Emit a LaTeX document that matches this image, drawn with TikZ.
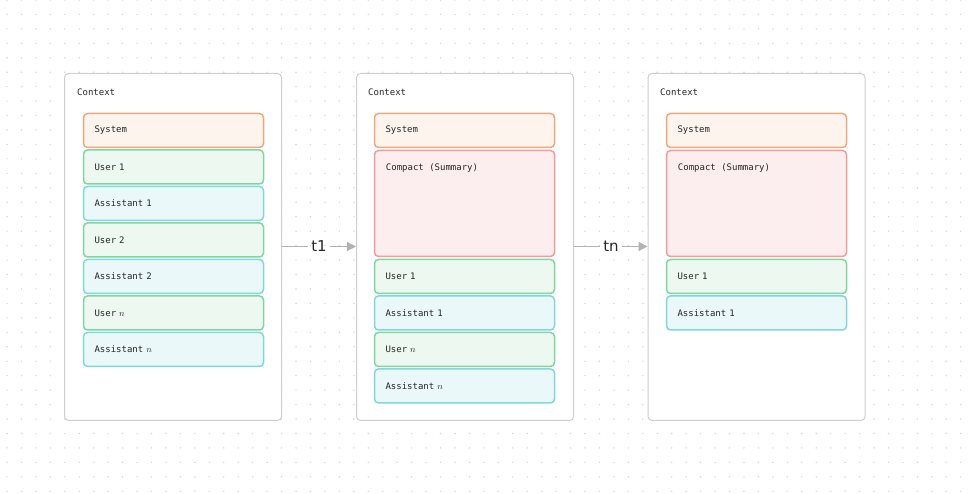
\documentclass[tikz,border=0pt]{standalone}
\usepackage{fontspec}
\setmainfont{DejaVu Sans}
\setmonofont{DejaVu Sans Mono}
\usetikzlibrary{arrows.meta}

\definecolor{dotGray}{HTML}{D6D6D6}
\definecolor{panelGray}{HTML}{CFCFCF}
\definecolor{arrowGray}{HTML}{B2B2B2}
\definecolor{sysDraw}{HTML}{EFA87C}
\definecolor{sysFill}{HTML}{FDF4EE}
\definecolor{userDraw}{HTML}{80D6A2}
\definecolor{userFill}{HTML}{EDF9F0}
\definecolor{asstDraw}{HTML}{7FD9D6}
\definecolor{asstFill}{HTML}{EBF8F9}
\definecolor{compDraw}{HTML}{F29A9C}
\definecolor{compFill}{HTML}{FCEEEF}

\begin{document}
\begin{tikzpicture}[x=1pt, y=-1pt,
rectPanel/.style={rectangle, draw=panelGray, line width=1pt, fill=white, minimum width=217pt, minimum height=347pt, rounded corners=4pt},
textContext/.style={font=\ttfamily\fontsize{9}{10}\selectfont, anchor=west, inner sep=0pt, text=black!85},
rectMsg/.style={rectangle, line width=1.5pt, minimum width=180pt, minimum height=34pt, text width=158pt, inner xsep=11pt, align=left, rounded corners=4pt, text=black!85, font=\ttfamily\fontsize{9}{10}\selectfont},
rectSystem/.style={rectMsg, draw=sysDraw, fill=sysFill},
rectUser/.style={rectMsg, draw=userDraw, fill=userFill},
rectAssistant/.style={rectMsg, draw=asstDraw, fill=asstFill},
rectCompact/.style={rectMsg, draw=compDraw, fill=compFill, minimum height=106pt},
compactText/.style={font=\ttfamily\fontsize{9}{10}\selectfont, text=black!85, anchor=west, inner sep=0pt, xshift=12pt, yshift=-18pt},
stepLabel/.style={font=\fontsize{15}{17}\selectfont, text=black!85, inner sep=3.5pt},
flow/.style={draw=arrowGray, line width=1.2pt},
flowArrow/.style={flow, -{Triangle[length=9pt, width=9pt]}}
]

\useasboundingbox (0,0) rectangle (970,494);

% dotted grid
\foreach \i in {0,...,66}
  \foreach \j in {0,...,34}
    \fill[dotGray] (7+14.45*\i, 14.45*\j) circle (0.8);

% first context
\node[rectPanel] (ctxOne) at (173, 247) {};
\node[textContext] (ctxOneTitle) at (77, 92) {Context};

\node[rectSystem] (sysOne) at (173.5, 130.5) {System};
\node[rectUser] (userOneA) at (173.5, 167) {User 1};
\node[rectAssistant] (asstOneA) at (173.5, 203.5) {Assistant 1};
\node[rectUser] (userOneB) at (173.5, 240) {User 2};
\node[rectAssistant] (asstOneB) at (173.5, 276.5) {Assistant 2};
\node[rectUser] (userOneN) at (173.5, 313) {User $n$};
\node[rectAssistant] (asstOneN) at (173.5, 349.5) {Assistant $n$};

% second context
\node[rectPanel] (ctxTwo) at (465, 247) {};
\node[textContext] (ctxTwoTitle) at (368, 92) {Context};

\node[rectSystem] (sysTwo) at (464.5, 130.5) {System};
\node[rectCompact, label={[compactText]north west:Compact (Summary)}] (compTwo) at (464.5, 203.5) {};
\node[rectUser] (userTwoA) at (464.5, 276.5) {User 1};
\node[rectAssistant] (asstTwoA) at (464.5, 313) {Assistant 1};
\node[rectUser] (userTwoN) at (464.5, 349.5) {User $n$};
\node[rectAssistant] (asstTwoN) at (464.5, 386) {Assistant $n$};

% third context
\node[rectPanel] (ctxThree) at (756.5, 247) {};
\node[textContext] (ctxThreeTitle) at (660, 92) {Context};

\node[rectSystem] (sysThree) at (756.5, 130.5) {System};
\node[rectCompact, label={[compactText]north west:Compact (Summary)}] (compThree) at (756.5, 203.5) {};
\node[rectUser] (userThreeA) at (756.5, 276.5) {User 1};
\node[rectAssistant] (asstThreeA) at (756.5, 313) {Assistant 1};

% transitions
\node[stepLabel] (stepOne) at (319, 246.5) {t1};
\node[stepLabel] (stepN) at (611, 246.5) {tn};

\draw[flow] (ctxOne.east |- stepOne) -- (stepOne.west);
\draw[flowArrow] (stepOne.east) -- (ctxTwo.west |- stepOne);
\draw[flow] (ctxTwo.east |- stepN) -- (stepN.west);
\draw[flowArrow] (stepN.east) -- (ctxThree.west |- stepN);

\end{tikzpicture}
\end{document}
